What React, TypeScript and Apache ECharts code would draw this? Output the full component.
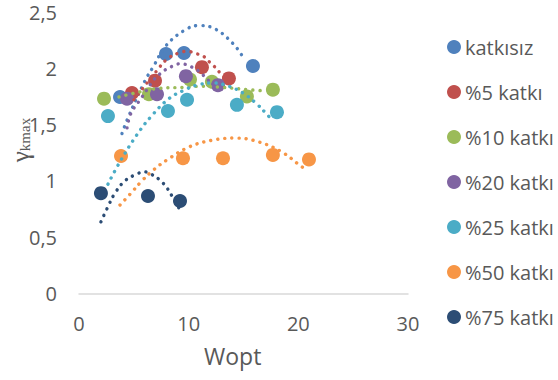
import React, { useEffect, useRef } from "react";
import * as echarts from "echarts";

// Series names
const seriesNames = ["katkısız", "%5 katkı", "%10 katkı", "%20 katkı", "%25 katkı", "%50 katkı", "%75 katkı"];
const colors = ["#4F81BD", "#C0504D", "#9BBB59", "#8064A2", "#4BACC6", "#F79646", "#2C4D75"];

// Scatter data [Wopt, γkmax]
const katkisiz = [[3.74, 1.745], [7.93, 2.127], [9.57, 2.136], [15.86, 2.02]];
const katki5 = [[4.83, 1.78], [6.93, 1.89], [11.21, 2.01], [13.67, 1.91]];
const katki10 = [[2.28, 1.73], [6.38, 1.77], [10.12, 1.9], [12.12, 1.88], [15.31, 1.75], [17.68, 1.81]];
const katki20 = [[4.38, 1.73], [7.11, 1.77], [9.75, 1.93], [12.67, 1.85]];
const katki25 = [[2.64, 1.575], [8.11, 1.62], [9.85, 1.72], [14.4, 1.675], [18.05, 1.61]];
const katki50 = [[3.83, 1.22], [9.48, 1.2], [13.13, 1.2], [17.68, 1.23], [20.97, 1.19]];
const katki75 = [[2.0, 0.89], [6.29, 0.865], [9.21, 0.82]];

// Trendline points
const trendKatkisiz = [[3.92, 1.42], [4.47, 1.56], [6.02, 1.89], [6.75, 2.01], [7.93, 2.2], [9.66, 2.34], [10.94, 2.38], [12.4, 2.35], [14.04, 2.22], [14.95, 2.1]];
const trend5 = [[5.01, 1.72], [7.11, 1.98], [8.02, 2.08], [9.21, 2.14], [9.94, 2.15], [10.67, 2.13], [11.3, 2.11], [11.85, 2.06], [12.3, 2.02], [12.85, 1.96], [13.31, 1.91]];
const trend10 = [[3.65, 1.745], [5.1, 1.78], [7.2, 1.82], [9.48, 1.83], [11.03, 1.84], [13.13, 1.83], [15.41, 1.81], [16.77, 1.8]];
const trend20 = [[4.38, 1.47], [4.74, 1.6], [5.65, 1.73], [6.84, 1.9], [7.38, 1.95], [7.93, 1.99], [8.57, 2.02], [9.21, 2.04], [9.85, 2.03], [10.48, 2.0], [11.12, 1.96], [11.58, 1.91], [12.12, 1.87]];
const trend25 = [[2.64, 0.97], [3.74, 1.17], [5.29, 1.41], [6.65, 1.58], [8.2, 1.73], [9.48, 1.8], [10.76, 1.85], [12.22, 1.87], [13.67, 1.84], [14.95, 1.78], [16.13, 1.69], [17.14, 1.59], [17.68, 1.53]];
const trend50 = [[3.74, 0.785], [4.74, 0.89], [5.74, 1.0], [6.84, 1.1], [8.02, 1.185], [10.03, 1.3], [12.12, 1.36], [14.31, 1.38], [16.41, 1.345], [18.51, 1.255], [20.24, 1.13], [20.88, 1.09]];
const trend75 = [[2.0, 0.635], [2.64, 0.77], [3.28, 0.89], [4.19, 1.0], [5.29, 1.06], [5.93, 1.08], [6.56, 1.06], [7.66, 0.98], [8.48, 0.865], [9.21, 0.74]];

const scatterData = [katkisiz, katki5, katki10, katki20, katki25, katki50, katki75];
const trendData = [trendKatkisiz, trend5, trend10, trend20, trend25, trend50, trend75];

const xTicks = { min: 0, max: 30, interval: 10 };
const yTicks = { min: 0, max: 2.5, interval: 0.5 };

const FONT = "'Open Sans', sans-serif";
const TXT = "#595959";

export default function App() {
  const ref = useRef<HTMLDivElement>(null);
  useEffect(() => {
    if (!ref.current) return;
    const chart = echarts.init(ref.current, undefined, { renderer: "svg" });
    const scatterSeries = scatterData.map((d, i) => ({
      name: seriesNames[i],
      type: "scatter",
      data: d,
      symbol: "circle",
      symbolSize: 14,
      itemStyle: { color: colors[i], opacity: 1 },
      z: 2,
    }));
    const trendSeries = trendData.map((d, i) => ({
      name: seriesNames[i] + " trend",
      type: "line",
      data: d,
      showSymbol: false,
      symbol: "none",
      smooth: 0.4,
      silent: true,
      lineStyle: { color: colors[i], width: 3.4, type: [0.1, 7], cap: "round" },
      z: 3,
    }));
    chart.setOption({
      animation: false,
      textStyle: { fontFamily: FONT },
      grid: { left: 79, top: 12, width: 329, height: 281.3, containLabel: false },
      xAxis: {
        type: "value",
        min: xTicks.min,
        max: xTicks.max,
        interval: xTicks.interval,
        axisLine: { show: true, lineStyle: { color: "#D9D9D9", width: 1.5 } },
        axisTick: { show: false },
        splitLine: { show: false },
        axisLabel: { color: TXT, fontSize: 20, fontFamily: FONT, margin: 20 },
      },
      yAxis: {
        type: "value",
        min: yTicks.min,
        max: yTicks.max,
        interval: yTicks.interval,
        axisLine: { show: false },
        axisTick: { show: false },
        splitLine: { show: false },
        axisLabel: {
          color: TXT,
          fontSize: 20,
          fontFamily: FONT,
          margin: 22,
          formatter: (v: number) => String(v).replace(".", ","),
        },
      },
      legend: {
        orient: "vertical",
        left: 442,
        top: 32,
        itemGap: 25,
        itemWidth: 14,
        itemHeight: 14,
        icon: "circle",
        itemStyle: { opacity: 1 },
        textStyle: { color: TXT, fontSize: 20, fontFamily: FONT, padding: [0, 0, 0, -1] },
        data: seriesNames,
        selectedMode: false,
      },
      graphic: [
        {
          type: "text",
          left: 204,
          top: 344,
          style: { text: "Wopt", fill: TXT, font: `23px ${FONT}` },
        },
        {
          type: "text",
          x: 20,
          y: 140,
          rotation: Math.PI / 2,
          style: {
            text: "{g|γ}{s|kmax}",
            align: "center",
            verticalAlign: "middle",
            fill: TXT,
            rich: {
              g: { fontSize: 25, fontFamily: "'Liberation Serif', serif", fill: TXT },
              s: { fontSize: 15, fontFamily: "'Liberation Serif', serif", fill: TXT, padding: [10, 0, 0, 0] },
            },
          },
        },
      ],
      series: [...scatterSeries, ...trendSeries],
    });
    return () => chart.dispose();
  }, []);
  return <div ref={ref} style={{ position: "fixed", left: 0, top: 0, width: 558, height: 380, background: "#fff" }} />;
}
